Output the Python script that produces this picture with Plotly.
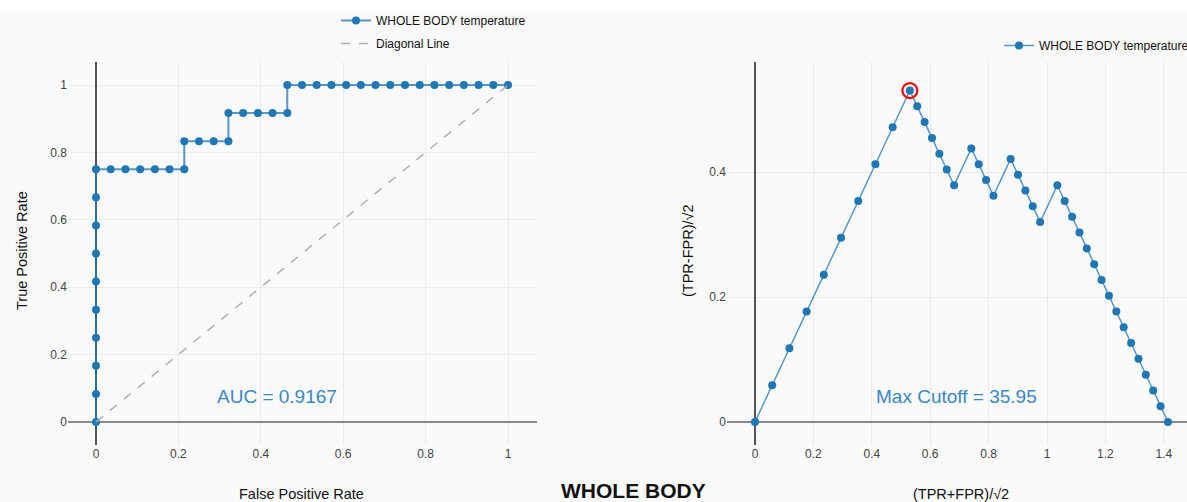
import numpy as np
import plotly.graph_objects as go

# ---- data ----
n_pos = 12
n_neg = 28
fp_counts = [0, 0, 0, 0, 0, 0, 0, 0, 0, 0,
             1, 2, 3, 4, 5, 6,
             6, 7, 8, 9,
             9, 10, 11, 12, 13,
             13, 14, 15, 16, 17, 18, 19, 20, 21, 22, 23, 24, 25, 26, 27, 28]
tp_counts = [0, 1, 2, 3, 4, 5, 6, 7, 8, 9,
             9, 9, 9, 9, 9, 9,
             10, 10, 10, 10,
             11, 11, 11, 11, 11,
             12, 12, 12, 12, 12, 12, 12, 12, 12, 12, 12, 12, 12, 12, 12, 12]
auc_text = "AUC = 0.9167"
cutoff_text = "Max Cutoff = 35.95"
series_name = "WHOLE BODY temperature"
diag_x = [0, 1]
diag_y = [0, 1]
left_ticks = [0, 0.2, 0.4, 0.6, 0.8, 1]
right_xticks = [0, 0.2, 0.4, 0.6, 0.8, 1, 1.2, 1.4]
right_yticks = [0, 0.2, 0.4]

fpr = np.array(fp_counts) / n_neg
tpr = np.array(tp_counts) / n_pos
rx = (tpr + fpr) / np.sqrt(2)
ry = (tpr - fpr) / np.sqrt(2)
imax = int(np.argmax(ry))

W, H = 1187, 502
PT, PB = 62, 445  # plot area top/bottom in px
FONT = "Liberation Sans, Arial, sans-serif"
BLUE = "#1f77b4"
LINE = "rgba(31,119,180,0.75)"
TXT = "#3a88c6"

def px(v):
    return v / W

def py(v):
    return (PB - v) / (PB - PT)

fig = go.Figure()

fig.add_trace(go.Scatter(x=fpr, y=tpr, mode="lines+markers", name=series_name,
                         line=dict(color=LINE, width=2),
                         marker=dict(color=BLUE, size=8), legendgroup="a",
                         xaxis="x", yaxis="y", legend="legend"))
fig.add_trace(go.Scatter(x=diag_x, y=diag_y, mode="lines", name="Diagonal Line",
                         line=dict(color="#b0b0b0", width=1.5, dash="dash"), legendgroup="b",
                         xaxis="x", yaxis="y", legend="legend"))
fig.add_trace(go.Scatter(x=rx, y=ry, mode="lines+markers", name=series_name,
                         line=dict(color=LINE, width=1.5),
                         marker=dict(color=BLUE, size=8),
                         xaxis="x2", yaxis="y2", legend="legend2"))
fig.add_trace(go.Scatter(x=[rx[imax]], y=[ry[imax]], mode="markers", showlegend=False,
                         marker=dict(symbol="circle-open", size=15, color="red",
                                     line=dict(width=2.2, color="red")),
                         xaxis="x2", yaxis="y2"))

axis_common = dict(showgrid=True, gridcolor="#ebebeb", gridwidth=1, zeroline=True,
                   showline=False, ticks="", tickfont=dict(family=FONT, size=12, color="#444"))

# left plot: x=0 at 96px, 412 px/unit; y=0 at 422, 337 px/unit
lx0, lx1 = 68, 537
fig.update_layout(
    xaxis=dict(domain=[px(lx0), px(lx1)], range=[(lx0 - 96) / 412, (lx1 - 96) / 412],
               tickvals=left_ticks, zerolinecolor="#555", zerolinewidth=1.5, anchor="y",
               **axis_common),
    yaxis=dict(domain=[0, 1], range=[(422 - PB) / 337, (422 - PT) / 337],
               tickvals=left_ticks, zerolinecolor="#888", zerolinewidth=2, anchor="x",
               **axis_common),
)
# right plot: x=0 at 755px, 292 px/unit; y=0 at 422, 625 px/unit
rx0, rx1 = 727, 1187
fig.update_layout(
    xaxis2=dict(domain=[px(rx0), 1], range=[(rx0 - 755) / 292, (rx1 - 755) / 292],
                tickvals=right_xticks, zerolinecolor="#555", zerolinewidth=1.5, anchor="y2",
                **axis_common),
    yaxis2=dict(domain=[0, 1], range=[(422 - PB) / 625, (422 - PT) / 625],
                tickvals=right_yticks, zerolinecolor="#888", zerolinewidth=2, anchor="x2",
                **axis_common),
)

def pa(text, x, y, size=14.5, angle=0, bold=False):
    return dict(text=f"<b>{text}</b>" if bold else text, x=px(x), y=py(y),
                xref="paper", yref="paper", xanchor="center", yanchor="middle",
                textangle=angle, showarrow=False,
                font=dict(family=FONT, size=size, color="#111"))

annos = [
    dict(text=auc_text, x=(277 - 96) / 412, y=(422 - 396) / 337, xref="x", yref="y",
         xanchor="center", yanchor="middle",
         showarrow=False, font=dict(family=FONT, size=19, color=TXT)),
    dict(text=cutoff_text, x=(956 - 755) / 292, y=(422 - 396) / 625, xref="x2", yref="y2",
         xanchor="center", yanchor="middle",
         showarrow=False, font=dict(family=FONT, size=19, color=TXT)),
    pa("True Positive Rate", 22, 251, angle=-90),
    pa("False Positive Rate", 302, 494),
    pa("(TPR-FPR)/√2", 688, 251, angle=-90),
    pa("(TPR+FPR)/√2", 961, 494),
    pa("WHOLE BODY", 633, 490, size=21, bold=True),
]

fig.update_layout(
    width=W, height=H,
    margin=dict(l=0, r=0, t=PT, b=H - PB, pad=0, autoexpand=False),
    paper_bgcolor="#fafafa", plot_bgcolor="#fafafa",
    font=dict(family=FONT, size=12, color="#222"),
    annotations=annos,
    shapes=[dict(type="rect", xref="paper", yref="paper", x0=0, x1=1,
                 y0=py(12), y1=py(0), fillcolor="white", line=dict(width=0), layer="below")],
    legend=dict(x=px(336), y=py(6), xanchor="left", yanchor="top", bgcolor="rgba(0,0,0,0)",
                tracegroupgap=4, font=dict(family=FONT, size=12, color="#111")),
    legend2=dict(x=px(999), y=py(31), xanchor="left", yanchor="top", bgcolor="rgba(0,0,0,0)",
                 font=dict(family=FONT, size=12, color="#111")),
    showlegend=True,
)

fig.write_html("out.html")
